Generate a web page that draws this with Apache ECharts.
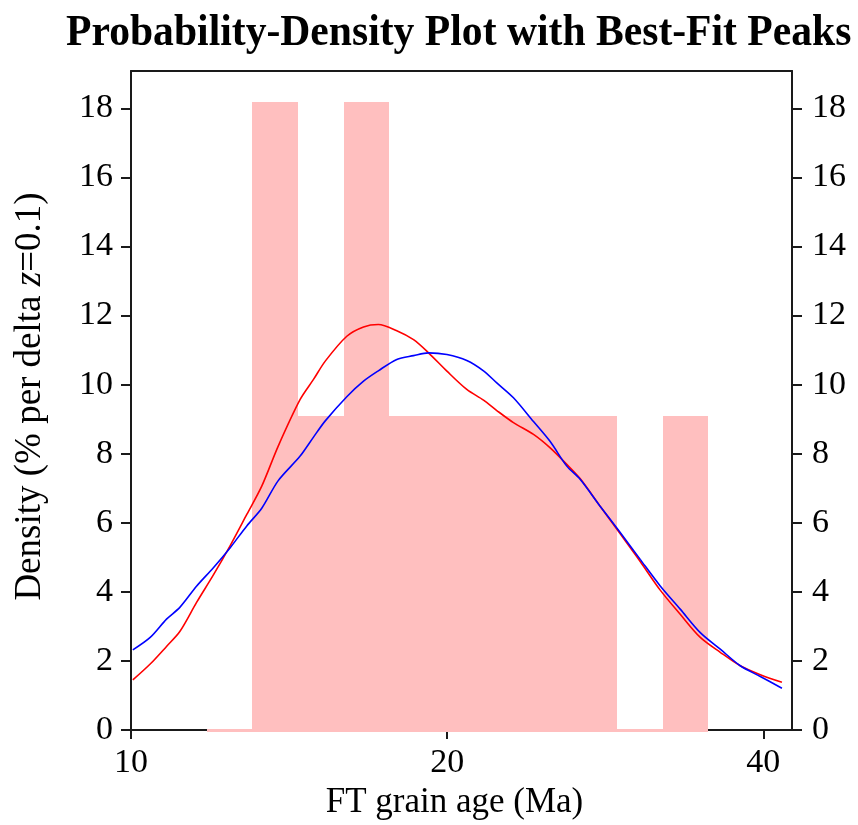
<!DOCTYPE html>
<html>
<head>
<meta charset="utf-8">
<script src="https://cdn.jsdelivr.net/npm/echarts@6/dist/echarts.min.js"></script>
<style>
  html, body { margin: 0; padding: 0; background: #fff; }
  #chart { width: 858px; height: 825px; }
</style>
</head>
<body>
<div id="chart"></div>
<script>
// Histogram bins in grain age (Ma): edges are 0.1 apart in z = ln(age)
const binEdges = [11.81, 13.05, 14.42, 15.94, 17.61, 19.47, 21.51, 23.78, 26.28, 29.04, 32.09, 35.47];
const binDensity = [0, 18.18, 9.09, 18.18, 9.09, 9.09, 9.09, 9.09, 9.09, 0, 9.09];

// Curve sample ages (Ma)
const curveAges = [10.04, 10.43, 10.81, 11.13, 11.55, 11.98, 12.43, 12.89, 13.32, 13.81,
  14.49, 14.92, 15.31, 16.05, 16.65, 17.20, 17.91, 18.58, 19.20, 19.99,
  20.88, 21.66, 22.30, 23.13, 24.17, 25.07, 26.00, 26.77, 27.97, 29.23,
  30.54, 31.91, 33.34, 34.84, 36.40, 38.03, 39.74, 41.67];
// Probability-density plot (red)
const pdpDensity = [1.45, 1.91, 2.42, 2.85, 3.70, 4.49, 5.34, 6.24, 7.06, 8.22,
  9.57, 10.15, 10.68, 11.40, 11.67, 11.74, 11.56, 11.30, 10.92, 10.39,
  9.86, 9.55, 9.25, 8.90, 8.56, 8.17, 7.69, 7.28, 6.48, 5.68,
  4.88, 4.05, 3.35, 2.68, 2.25, 1.86, 1.60, 1.38];
// Best-fit peak curve (blue)
const peakDensity = [2.32, 2.68, 3.21, 3.55, 4.17, 4.70, 5.28, 5.91, 6.42, 7.22,
  7.93, 8.48, 8.95, 9.65, 10.10, 10.40, 10.73, 10.84, 10.92, 10.87,
  10.70, 10.40, 10.05, 9.62, 8.93, 8.35, 7.64, 7.26, 6.48, 5.72,
  4.94, 4.17, 3.50, 2.82, 2.34, 1.86, 1.55, 1.21];

// Axis ticks
const ageTicks = [10, 20, 40];
const ageMin = 10, ageMax = 42.6;
const densityTicks = [0, 2, 4, 6, 8, 10, 12, 14, 16, 18];
const densityMax = 19.08;

const SERIF = '"Liberation Serif", "Times New Roman", serif';
const ln = Math.log;

const histData = binDensity.map((d, i) => [ln(binEdges[i]), ln(binEdges[i + 1]), d]);
const pdpData = curveAges.map((a, i) => [ln(a), pdpDensity[i]]);
const peakData = curveAges.map((a, i) => [ln(a), peakDensity[i]]);

const xTickVals = ageTicks.map(a => ln(a));
const axisColor = '#1a1a1a';

function xAxisBase(pos, showLabels) {
  return {
    type: 'value', position: pos,
    min: ln(ageMin), max: ln(ageMax),
    axisLine: { show: true, onZero: false, lineStyle: { color: axisColor, width: 2 } },
    axisTick: { show: showLabels, customValues: xTickVals, length: 9, lineStyle: { color: axisColor, width: 2 } },
    axisLabel: {
      show: showLabels, customValues: xTickVals, margin: 16,
      formatter: v => String(Math.round(Math.exp(v))),
      fontFamily: SERIF, fontSize: 34, color: '#000'
    },
    splitLine: { show: false }
  };
}
function yAxisBase(pos) {
  return {
    type: 'value', position: pos, min: 0, max: densityMax,
    axisLine: { show: true, onZero: false, lineStyle: { color: axisColor, width: 2 } },
    axisTick: { show: true, customValues: densityTicks, length: 10, lineStyle: { color: axisColor, width: 2 } },
    axisLabel: {
      customValues: densityTicks, margin: pos === 'right' ? 20 : 18,
      fontFamily: SERIF, fontSize: 34, color: '#000'
    },
    splitLine: { show: false }
  };
}

const xBottom = Object.assign(xAxisBase('bottom', true), {
  name: 'FT grain age (Ma)', nameLocation: 'middle', nameGap: 55,
  nameTextStyle: { fontFamily: SERIF, fontSize: 35, color: '#000', padding: [0, 14, 0, 0] }
});
const xTop = xAxisBase('top', false);
const yLeft = Object.assign(yAxisBase('left'), {
  name: 'Density (% per delta {i|z}=0.1)', nameLocation: 'middle', nameGap: 82,
  nameTextStyle: {
    fontFamily: SERIF, fontSize: 37, color: '#000', padding: [0, 0, 0, 8],
    rich: { i: { fontFamily: SERIF, fontSize: 37, fontStyle: 'italic', color: '#000' } }
  }
});
const yRight = yAxisBase('right');

const chart = echarts.init(document.getElementById('chart'), null, { renderer: 'canvas' });
chart.setOption({
  animation: false,
  backgroundColor: '#fff',
  grid: { left: 131, right: 66, top: 71, bottom: 94, containLabel: false },
  graphic: [{
    type: 'text', x: 66, y: 33, scaleX: 0.925,
    style: {
      text: 'Probability-Density Plot with Best-Fit Peaks',
      fontFamily: SERIF, fontSize: 45, fontWeight: 'bold', fill: '#000',
      textAlign: 'left', textVerticalAlign: 'middle'
    }
  }],
  xAxis: [xBottom, xTop],
  yAxis: [yLeft, yRight],
  series: [
    {
      type: 'custom', name: 'Histogram', xAxisIndex: 0, yAxisIndex: 0, z: 3,
      data: histData,
      encode: { x: [0, 1], y: 2 },
      renderItem: function (params, api) {
        const p0 = api.coord([api.value(0), 0]);
        const p1 = api.coord([api.value(1), api.value(2)]);
        const xl = Math.round(p0[0]);
        const xr = Math.round(p1[0]);
        const yBottom = p0[1] + 2;
        const yTop = Math.min(p1[1], p0[1] - 1);
        return {
          type: 'rect',
          shape: { x: xl, y: yTop, width: xr - xl, height: yBottom - yTop },
          style: { fill: '#ffbfbf' }
        };
      }
    },
    {
      type: 'line', name: 'PDP', data: pdpData, smooth: 0.3, showSymbol: false, z: 4,
      lineStyle: { color: '#ff0000', width: 1.6 }
    },
    {
      type: 'line', name: 'Best-fit peaks', data: peakData, smooth: 0.3, showSymbol: false, z: 5,
      lineStyle: { color: '#0000ff', width: 1.6 }
    }
  ]
});
</script>
</body>
</html>
